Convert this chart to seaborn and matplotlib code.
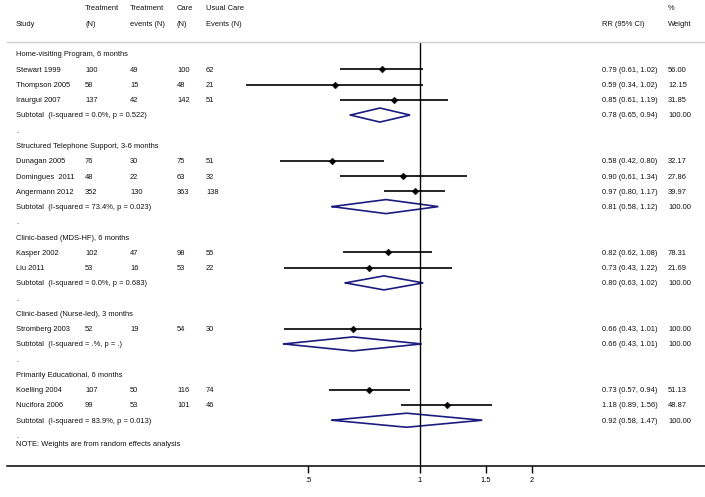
import numpy as np
import pandas as pd
import matplotlib
matplotlib.use("Agg")
import matplotlib.pyplot as plt
import matplotlib.transforms as mtransforms
import seaborn as sns

# ----------- DONNÉES ------------

group_names = [
    "Home-visiting Program, 6 months",
    "Structured Telephone Support, 3-6 months",
    "Clinic-based (MDS-HF), 6 months",
    "Clinic-based (Nurse-led), 3 months",
    "Primarily Educational, 6 months",
]
group_het = [
    "I-squared = 0.0%, p = 0.522",
    "I-squared = 73.4%, p = 0.023",
    "I-squared = 0.0%, p = 0.683",
    "I-squared = .%, p = .",
    "I-squared = 83.9%, p = 0.013",
]
sub_rr = [0.78, 0.81, 0.80, 0.66, 0.92]
sub_lo = [0.65, 0.58, 0.63, 0.43, 0.58]
sub_hi = [0.94, 1.12, 1.02, 1.01, 1.47]

studies = ["Stewart 1999", "Thompson 2005", "Iraurgui 2007",
           "Dunagan 2005", "Domingues  2011", "Angermann 2012",
           "Kasper 2002", "Liu 2011",
           "Stromberg 2003",
           "Koelling 2004", "Nucifora 2006"]
study_group = [0, 0, 0, 1, 1, 1, 2, 2, 3, 4, 4]
treat_n = [100, 58, 137, 76, 48, 352, 102, 53, 52, 107, 99]
treat_ev = [49, 15, 42, 30, 22, 130, 47, 16, 19, 50, 53]
care_n = [100, 48, 142, 75, 63, 363, 98, 53, 54, 116, 101]
care_ev = [62, 21, 51, 51, 32, 138, 55, 22, 30, 74, 46]
rr = [0.79, 0.59, 0.85, 0.58, 0.90, 0.97, 0.82, 0.73, 0.66, 0.73, 1.18]
rr_lo = [0.61, 0.34, 0.61, 0.42, 0.61, 0.80, 0.62, 0.43, 0.43, 0.57, 0.89]
rr_hi = [1.02, 1.02, 1.19, 0.80, 1.34, 1.17, 1.08, 1.22, 1.01, 0.94, 1.56]
weight = [56.00, 12.15, 31.85, 32.17, 27.86, 39.97, 78.31, 21.69, 100.00, 51.13, 48.87]

tick_vals = [0.5, 1, 1.5, 2]
tick_labels = [".5", "1", "1.5", "2"]

# ----------- LIGNES DU TABLEAU ------------

study_row = []
sub_row = []
blank_rows = []
head_rows = []
row = 0
for g in range(len(group_names)):
    head_rows.append(row)
    row += 1
    for i, sg in enumerate(study_group):
        if sg == g:
            study_row.append(row)
            row += 1
    sub_row.append(row)
    row += 1
    blank_rows.append(row)
    row += 1

df = pd.DataFrame({"study": studies, "row": study_row, "rr": rr,
                   "lo": rr_lo, "hi": rr_hi})

# ----------- FIGURE ------------

sns.set_style("white")
plt.rcParams["font.family"] = ["Liberation Sans", "DejaVu Sans"]
FS = 5.4
W, H = 705, 497

fig = plt.figure(figsize=(W / 100, H / 100), dpi=100)
ax = fig.add_axes([7 / W, 31 / H, 698 / W, 466 / H])
ax.set_xscale("log")
px_per_ln = 112 / np.log(2)          # .5 -> 1 sur ~112 px
ax.set_xlim(np.exp((7 - 420) / px_per_ln), np.exp((705 - 420) / px_per_ln))
ax.set_ylim(27.0, -3.54)

# intervalles de confiance
ax.hlines(df["row"], df["lo"], df["hi"], color="black", lw=1.2)
sns.scatterplot(data=df, x="rr", y="row", marker="D", color="black",
                s=12, edgecolor="black", linewidth=0.3, ax=ax, legend=False,
                zorder=3)

# losanges des sous-totaux
h = 0.46
for r, e, lo, hi in zip(sub_row, sub_rr, sub_lo, sub_hi):
    ax.plot([lo, e, hi, e, lo], [r, r - h, r, r + h, r],
            color="#1c1c80", lw=1.2, solid_joinstyle="miter")

# ligne de référence et séparateur
ax.vlines(1, -0.79, 27.0, color="black", lw=1.0)
ax.axhline(-0.79, color="#d0d0d0", lw=1.0)

# axes
for s in ["top", "left", "right"]:
    ax.spines[s].set_visible(False)
ax.spines["bottom"].set_color("black")
ax.spines["bottom"].set_linewidth(1.1)
ax.set_xticks(tick_vals)
ax.set_xticklabels(tick_labels, fontsize=FS)
ax.xaxis.set_minor_locator(matplotlib.ticker.NullLocator())
ax.tick_params(axis="x", direction="out", length=5, width=1.0, pad=3,
               bottom=True, colors="black")
ax.set_yticks([])
ax.set_xlabel("")
ax.set_ylabel("")

# ----------- TEXTES ------------

tr = mtransforms.blended_transform_factory(fig.transFigure, ax.transData)
cols = [16, 85, 130, 177, 206, 602, 668]
cx = [c / W for c in cols]
dy = 0.06


def put(x, y, s):
    ax.text(x, y + dy, s, transform=tr, fontsize=FS, ha="left", va="center",
            color="#111111", clip_on=False)


# en-têtes
put(cx[1], -3.02, "Treatment")
put(cx[2], -3.02, "Treatment")
put(cx[3], -3.02, "Care")
put(cx[4], -3.02, "Usual Care")
put(cx[6], -3.02, "%")
put(cx[0], -1.97, "Study")
put(cx[1], -1.97, "(N)")
put(cx[2], -1.97, "events (N)")
put(cx[3], -1.97, "(N)")
put(cx[4], -1.97, "Events (N)")
put(cx[5], -1.97, "RR (95% CI)")
put(cx[6], -1.97, "Weight")

for g, r in enumerate(head_rows):
    put(cx[0], r, group_names[g])

for i, r in enumerate(study_row):
    put(cx[0], r, studies[i])
    put(cx[1], r, str(treat_n[i]))
    put(cx[2], r, str(treat_ev[i]))
    put(cx[3], r, str(care_n[i]))
    put(cx[4], r, str(care_ev[i]))
    put(cx[5], r, f"{rr[i]:.2f} ({rr_lo[i]:.2f}, {rr_hi[i]:.2f})")
    put(cx[6], r, f"{weight[i]:.2f}")

for g, r in enumerate(sub_row):
    put(cx[0], r, f"Subtotal  ({group_het[g]})")
    put(cx[5], r, f"{sub_rr[g]:.2f} ({sub_lo[g]:.2f}, {sub_hi[g]:.2f})")
    put(cx[6], r, "100.00")

for r in blank_rows:
    put(cx[0], r, ".")

put(cx[0], blank_rows[-1] + 0.55, "NOTE: Weights are from random effects analysis")

fig.savefig("out.png", dpi=100)
